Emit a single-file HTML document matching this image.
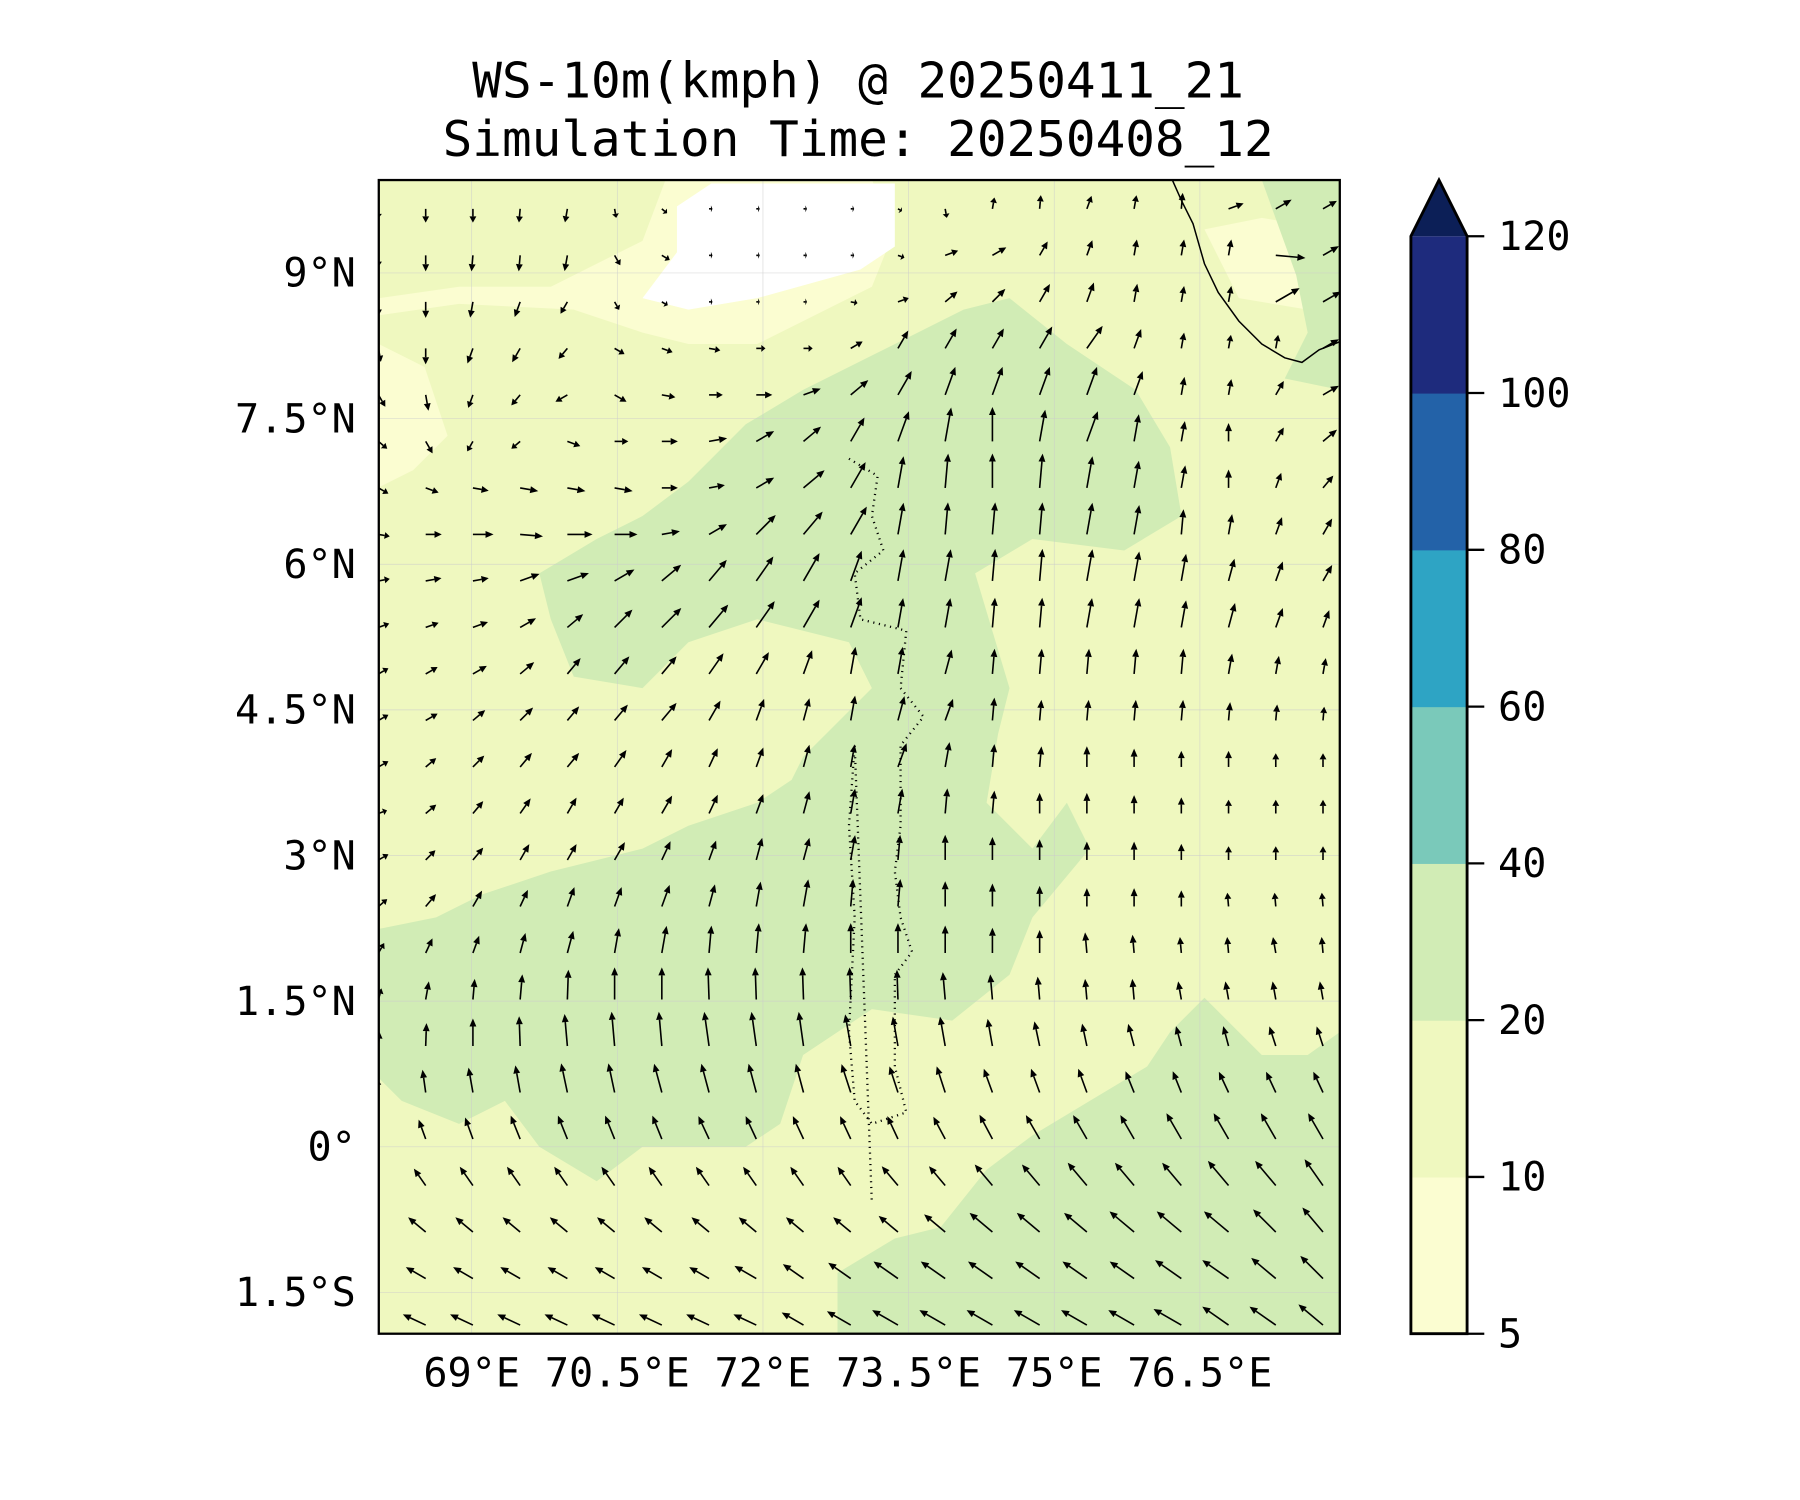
<!DOCTYPE html>
<html><head><meta charset="utf-8"><style>
html,body{margin:0;padding:0;background:#fff}
svg{display:block}
text{font-family:"DejaVu Sans Mono","Liberation Mono",monospace;fill:#000}
</style></head><body>
<svg id="fig" xmlns="http://www.w3.org/2000/svg" width="1800" height="1500" viewBox="0 0 1569 1308">
<rect width="1569" height="1308" fill="#fff"/>
<text x="748" y="85" font-size="43" text-anchor="middle">WS-10m(kmph) @ 20250411_21</text>
<text x="748" y="136" font-size="43" text-anchor="middle">Simulation Time: 20250408_12</text>
<defs><clipPath id="mapclip"><rect x="330" y="157" width="838" height="1006"/></clipPath></defs>
<g id="map" clip-path="url(#mapclip)">
<rect x="330" y="157" width="838" height="1006" fill="#eff8bf"/>
<polygon fill="#fbfdd1" points="330,260 400,250 480,250 560,210 580,157 760,157 780,200 760,250 700,280 660,300 600,300 560,290 500,270 400,265 330,275"/>
<polygon fill="#fbfdd1" points="330,300 370,320 390,380 360,410 330,425"/>
<polygon fill="#fbfdd1" points="1050,200 1100,190 1160,200 1168,240 1140,270 1080,260"/>
<polygon fill="#ffffff" points="590,180 620,160 780,160 780,215 750,235 660,260 600,270 560,260 590,220"/>
<polygon fill="#d1ecb5" points="650,370 700,340 760,310 840,270 880,260 930,300 990,340 1020,390 1030,450 980,480 900,470 850,500 880,600 870,640 860,700 900,740 930,700 950,740 900,800 880,850 830,890 760,880 700,920 680,980 650,1000 560,1000 520,1030 470,1000 440,960 400,980 350,960 330,940 330,810 380,800 420,780 480,760 520,750 560,740 600,720 660,700 690,680 700,660 760,600 740,560 700,550 660,540 600,560 560,600 500,590 480,540 470,500 520,470 560,450 600,420 620,400"/>
<polygon fill="#d1ecb5" points="730,1163 730,1110 780,1080 820,1070 860,1020 900,990 950,960 1000,930 1020,900 1050,870 1100,920 1140,920 1168,900 1168,1163"/>
<polygon fill="#d1ecb5" points="1100,157 1168,157 1168,340 1120,330 1140,290 1130,240"/>
<g id="grid"></g>
<polyline fill="none" stroke="#000" stroke-width="1.3" points="1022,157 1030,175 1040,195 1050,230 1062,255 1080,280 1100,300 1120,312 1135,316 1150,305 1168,298"/>
<polyline fill="none" stroke="#000" stroke-width="2" stroke-dasharray="1,4" points="740,400 765,415 760,450 770,480 745,500 750,540 790,550 785,600 805,625 785,650 785,720 780,760 785,800 795,830 780,850 780,930 790,970 760,980 745,960 740,900 745,800 740,720 745,650 760,1050"/>
<g id="arrows"></g>
</g>
<rect x="330" y="157" width="838" height="1006" fill="none" stroke="#000" stroke-width="2"/>
<g id="yticks"></g>
<g id="xticks"></g>
<g id="cbar"></g>
</svg>
<script>
const NS="http://www.w3.org/2000/svg";
const latTicks=[9,7.5,6,4.5,3,1.5,0,-1.5];
const latLabels=["9°N","7.5°N","6°N","4.5°N","3°N","1.5°N","0°","1.5°S"];
const lonTicks=[69,70.5,72,73.5,75,76.5];
const lonLabels=["69°E","70.5°E","72°E","73.5°E","75°E","76.5°E"];
const cbarLevels=[5,10,20,40,60,80,100,120];
const cbarColors=["#fbfdd1","#eff8bf","#d1ecb5","#7ac9ba","#2ea4c4","#2362a8","#1e2b7d"];
const cbarExtendColor="#0c1f57";
const gridLon0=68.04, gridDLon=0.4864, gridLat0=9.66, gridDLat=0.479;
const windDir=[
[-90,-90,-90,-95,-100,-80,-40,0,0,0,0,-30,-80,80,85,70,80,85,20,30,30],
[-90,-90,-95,-95,-100,-60,-30,0,0,0,0,-20,20,30,60,70,80,80,80,-5,30],
[-90,-90,-100,-110,-120,-60,-30,0,0,0,-10,20,40,45,60,70,80,80,80,30,30],
[-80,-90,-110,-120,-130,-30,-20,-10,0,0,30,60,60,60,60,55,70,80,80,80,30],
[-60,-80,-110,-130,-150,-30,-10,0,0,20,40,60,70,70,70,70,70,80,80,60,30],
[-40,-60,-120,-140,-20,0,0,10,30,40,60,70,80,90,80,70,80,80,90,60,40],
[-30,-20,-10,-10,-10,-10,0,10,30,40,60,80,85,90,85,80,80,80,90,70,50],
[-10,0,0,-5,0,0,10,30,45,50,60,80,85,85,85,80,80,85,80,70,60],
[10,10,10,20,20,30,40,50,55,60,70,80,80,85,85,80,80,80,75,70,60],
[20,20,20,30,40,45,45,50,55,60,70,80,80,85,85,80,80,80,75,70,70],
[30,30,30,40,50,50,50,55,60,70,80,80,75,85,85,85,85,85,80,80,80],
[30,30,40,45,50,50,50,60,70,75,80,75,70,85,85,85,85,85,85,85,85],
[30,40,45,50,50,55,60,65,70,75,80,70,80,85,85,90,90,90,90,90,90],
[20,40,50,55,60,60,60,65,70,75,80,80,85,85,90,90,90,90,90,90,90],
[30,45,50,60,60,60,65,70,75,75,80,85,90,90,90,90,90,90,90,90,90],
[40,50,60,65,70,70,70,75,80,80,85,85,90,90,90,90,90,90,95,95,95],
[60,65,70,75,75,80,80,85,85,85,90,90,90,90,90,95,95,95,95,100,95],
[75,80,85,85,88,90,90,92,92,92,92,92,95,95,95,95,95,100,100,100,100],
[85,88,90,92,95,95,95,98,98,98,100,100,100,100,102,102,105,105,105,108,108],
[95,98,100,100,102,102,105,105,105,105,108,108,108,110,110,110,112,112,115,115,115],
[110,110,110,112,112,112,112,115,115,115,115,115,118,118,120,120,120,120,120,120,120],
[120,125,125,125,125,125,125,125,125,125,125,130,130,130,130,130,130,130,130,130,125],
[135,140,140,140,140,140,140,140,140,140,140,140,140,140,140,140,140,140,140,135,130],
[150,150,150,150,150,150,150,150,150,145,145,145,145,145,145,145,145,145,145,140,135],
[155,155,155,155,155,155,155,155,155,150,150,150,150,150,150,150,150,150,145,145,140]];
const windLen=[
[8,12,12,12,12,8,6,3,3,3,3,4,8,10,12,12,12,14,14,16,14],
[10,14,14,14,14,10,8,3,3,3,3,6,12,14,14,14,14,14,14,26,16],
[12,14,14,14,12,8,6,3,3,3,6,10,14,16,18,18,16,14,14,24,18],
[12,14,14,14,12,10,10,10,8,8,12,18,20,20,22,24,18,14,12,12,16],
[12,14,12,12,12,12,12,12,14,16,20,24,26,26,26,26,22,16,14,14,16],
[10,12,10,10,12,12,14,16,18,20,24,28,30,30,28,28,24,18,16,14,16],
[10,12,14,16,16,16,14,14,18,24,26,28,30,30,30,28,24,20,16,14,14],
[10,14,18,20,22,20,16,18,24,26,28,28,28,28,28,28,26,22,18,16,16],
[10,14,14,18,20,20,22,24,26,28,28,28,28,28,28,28,26,24,20,18,16],
[10,12,14,16,18,22,24,26,28,28,28,26,26,26,26,26,26,24,22,18,16],
[10,12,14,16,18,20,20,22,22,22,24,24,22,22,22,22,22,22,18,16,14],
[10,12,14,16,16,18,20,20,20,20,22,22,20,20,18,18,18,18,16,14,12],
[10,12,14,16,16,18,18,18,18,20,20,22,22,20,18,18,16,14,14,12,12],
[8,12,14,16,16,16,18,18,18,20,22,22,22,20,18,18,16,14,12,12,12],
[10,12,14,16,16,18,18,18,20,20,22,22,22,20,18,16,16,14,12,12,12],
[10,14,16,16,18,18,20,20,22,24,24,24,22,20,18,16,16,14,12,12,12],
[10,14,16,18,20,22,24,24,26,26,26,26,24,22,20,18,16,14,14,14,14],
[10,16,18,22,26,28,28,28,28,28,28,26,24,22,20,18,18,16,16,16,16],
[12,20,24,26,28,30,30,30,30,30,28,26,26,24,22,20,20,18,18,18,18],
[12,20,22,24,26,26,26,26,26,26,26,24,24,22,22,22,20,20,20,20,20],
[12,18,20,22,22,22,22,22,22,22,22,22,22,24,24,24,24,26,26,26,26],
[12,18,20,20,20,20,20,20,20,20,20,22,22,24,24,26,26,26,28,28,28],
[12,20,20,20,20,20,20,20,20,20,20,22,24,26,26,26,28,28,28,28,28],
[12,20,20,20,20,20,20,20,22,22,24,26,26,26,26,26,26,28,28,28,28],
[12,22,22,22,22,22,22,22,22,22,24,26,26,26,26,26,26,28,28,28,28]];

const PX=127/1.5;
function xOf(lon){return 411+(lon-69)*PX;}
function yOf(lat){return 238+(9-lat)*PX;}
function mk(tag,attrs,parent){const e=document.createElementNS(NS,tag);for(const k in attrs)e.setAttribute(k,attrs[k]);parent.appendChild(e);return e;}

const grid=document.getElementById('grid');
latTicks.forEach(function(lat){
  const l=mk('line',{x1:330,x2:1168,y1:yOf(lat),y2:yOf(lat),stroke:'#ccc','stroke-width':0.6,opacity:0.7},grid);
  
  
});
lonTicks.forEach(function(lon){
  const l=mk('line',{x1:xOf(lon),x2:xOf(lon),y1:157,y2:1163,stroke:'#ccc','stroke-width':0.6,opacity:0.7},grid);
  
  
});

const yg=document.getElementById('yticks');
latTicks.forEach(function(lat,i){
  const t=mk('text',{x:310,y:yOf(lat)+12,'font-size':35,'text-anchor':'end'},yg);
  t.textContent=latLabels[i];
  
  
});
const xg=document.getElementById('xticks');
lonTicks.forEach(function(lon,i){
  const t=mk('text',{x:xOf(lon),y:1209,'font-size':35,'text-anchor':'middle'},xg);
  t.textContent=lonLabels[i];
  
  
});

const ag=document.getElementById('arrows');
windDir.forEach(function(row,r){
  row.forEach(function(deg,c){
    const lon=gridLon0+gridDLon*c, lat=gridLat0-gridDLat*r;
    const x0=xOf(lon), y0=yOf(lat);
    const L=windLen[r][c], a=deg*Math.PI/180;
    const ux=Math.cos(a), uy=-Math.sin(a);
    const hl=Math.min(7,L*0.45), hw=3;
    const x1=x0+ux*L, y1=y0+uy*L;
    const bx=x1-ux*hl, by=y1-uy*hl;
    const g=mk('g',{},ag);
    
    
    mk('line',{x1:x0,y1:y0,x2:bx,y2:by,stroke:'#000','stroke-width':1.4},g);
    mk('polygon',{points:x1+','+y1+' '+(bx-uy*hw)+','+(by+ux*hw)+' '+(bx+uy*hw)+','+(by-ux*hw),fill:'#000'},g);
  });
});

const cb=document.getElementById('cbar');
const cbL=1230,cbR=1279,cbB=1163,cbT=206,seg=(cbB-cbT)/(cbarLevels.length-1);
function yCb(i){return cbB-i*seg;}
cbarColors.forEach(function(col,i){
  const r=mk('rect',{x:cbL,y:yCb(i+1),width:cbR-cbL,height:seg+0.5,fill:col},cb);
  
  
});
const tip=mk('polygon',{points:cbL+','+cbT+' '+((cbL+cbR)/2)+',157 '+cbR+','+cbT,fill:cbarExtendColor},cb);


const outline=mk('polygon',{points:cbL+','+cbB+' '+cbL+','+cbT+' '+((cbL+cbR)/2)+',157 '+cbR+','+cbT+' '+cbR+','+cbB,fill:'none',stroke:'#000','stroke-width':2.5},cb);


cbarLevels.forEach(function(v,i){
  const tk=mk('line',{x1:cbR,x2:cbR+15,y1:yCb(i),y2:yCb(i),stroke:'#000','stroke-width':2},cb);
  
  
  const t=mk('text',{x:1306,y:yCb(i)+12,'font-size':35},cb);
  t.textContent=String(v);
  
  
});
</script>
</body></html>
